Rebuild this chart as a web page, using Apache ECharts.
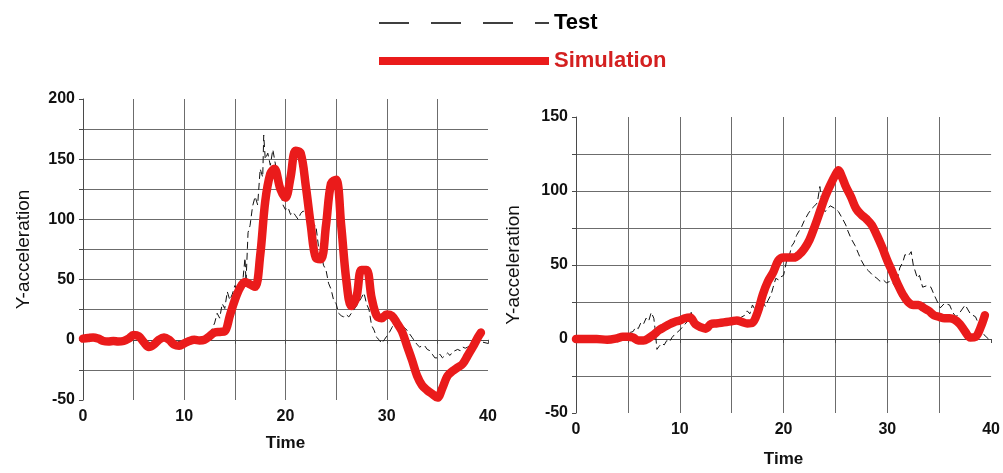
<!DOCTYPE html>
<html>
<head>
<meta charset="utf-8">
<title>Y-acceleration: Test vs Simulation</title>
<script src="https://cdn.jsdelivr.net/npm/echarts@6/dist/echarts.min.js"></script>
<style>
  html, body { margin: 0; padding: 0; background: #fff; }
  #chart { width: 1003px; height: 473px; }
</style>
</head>
<body>
<div id="chart"></div>
<script>
// Series names
const seriesNames = ['Test', 'Simulation'];

// Axis ranges and tick spacing
const xRange = [0, 40];
const xGridStep = 5;
const xLabelStep = 10;
const leftYRange = [-50, 200];
const rightYRange = [-50, 150];
const yGridStep = 25;
const yLabelStep = 50;

// Left panel: measured (Test) and computed (Simulation) [time, acceleration]
const leftTest = [
  [0,0],[1,1],[2,-1],[3,-1],[4,0],[5,3],[6,-1],[7,-3],[8,1],[9,-2],[10,-1],[11,0],[12,1],
  [12.5,4],[13,14],[13.25,22],[13.5,18],[13.75,30],[14,26],[14.25,40],[14.5,33],[14.75,38],
  [15,45],[15.25,40],[15.5,50],[15.75,46],[16,68],[16.1,48],[16.3,89],[16.5,95],[16.75,111],
  [17,119],[17.25,112],[17.5,142],[17.75,135],[17.85,170],[18,150],[18.25,155],[18.5,145],
  [18.75,158],[19,146],[19.25,135],[19.5,125],[19.75,112],[20,108],[20.25,110],[20.5,104],
  [20.75,106],[21,103],[21.25,100],[21.5,105],[21.75,107],[22,104],[22.5,100],[22.75,93],
  [23,95],[23.25,78],[23.5,73],[23.75,62],[24,58],[24.25,47],[24.5,42],[24.75,33],[25,30],
  [25.25,22],[25.5,20],[25.75,19],[26,21],[26.25,19],[26.5,22],[27,28],[27.5,35],[27.75,39],
  [28,30],[28.25,25],[28.5,12],[28.75,8],[29,2],[29.25,0],[29.5,-3],[29.75,0],[30,3],
  [30.25,6],[30.5,10],[30.75,14],[31,16],[31.5,12],[32,8],[32.5,2],[33,-4],[33.25,-6],
  [33.5,-5],[33.75,-5],[34,-8],[34.25,-9],[34.5,-12],[34.75,-15],[35,-15],[35.25,-12],
  [35.5,-15],[35.75,-13],[36,-11],[36.25,-13],[36.5,-10],[37,-8],[37.25,-9],[37.5,-6],
  [37.75,-7],[38,-6],[38.5,-3],[39,-3],[39.5,-2],[40,-3]
];
const leftSimulation = [
  [0,1],[0.5,1.5],[1,2],[1.5,1],[2,-1],[2.5,-1.5],[3,-1],[3.5,-1.5],[4,-1],[4.5,1],[5,4],
  [5.5,3],[6,-2],[6.5,-6],[7,-4],[7.5,0],[8,2],[8.5,0],[9,-4],[9.5,-5],[10,-3],[10.5,-1],
  [11,0],[11.5,-0.5],[12,0],[12.5,3],[13,6],[13.5,6.5],[14,7],[14.5,20],[15,33],[15.5,43],
  [16,48],[16.5,46],[17,44],[17.5,70],[18,115],[18.5,138],[18.9,142],[19.5,125],[20,118],
  [20.5,135],[21,157],[21.5,155],[22,128],[22.5,95],[23,68],[23.5,67],[24,95],[24.5,130],
  [25,133],[25.5,95],[26,50],[26.5,28],[27,35],[27.5,58],[28,58],[28.5,35],[29,20],
  [29.5,18],[30,21],[30.5,20],[31,14],[31.5,7],[32,-5],[32.5,-17],[33,-30],[33.5,-38],
  [34,-42],[34.5,-45],[35,-48],[35.5,-40],[36,-30],[36.5,-26],[37,-23],[37.5,-20],
  [38,-13],[38.5,-6],[39,2],[39.3,6]
];

// Right panel: measured (Test) and computed (Simulation) [time, acceleration]
const rightTest = [
  [0,0],[1,0],[2,0],[3,0],[4,0.5],[4.5,1],[5,3],[5.25,4.5],[5.5,5],[5.75,8],[6,7],[6.25,11],
  [6.5,10],[6.75,14],[7,12],[7.25,18],[7.5,14],[7.6,8],[7.8,-7],[8,-5],[8.25,-3],[8.5,-4],
  [8.75,-1],[9,-2],[9.25,1],[9.5,3],[10,6],[10.5,10],[11,14],[11.1,18],[11.3,12],[11.5,7],
  [12,6],[12.5,8],[13,10],[13.5,10],[14,11],[14.5,12],[15,12],[15.5,13],[16,15],[16.25,16],
  [16.5,19],[16.75,17],[17,23],[17.4,18],[17.75,22],[18,25],[18.25,22],[18.5,26],[18.8,30],
  [19,35],[19.25,41],[19.5,40],[19.75,42],[20,43],[20.3,53],[20.5,55],[20.8,63],[21,65],
  [21.25,70],[21.5,73],[21.75,76],[22,80],[22.4,85],[22.7,88],[23,90],[23.25,92],[23.5,103],
  [23.6,97],[24,86],[24.5,90],[25,88],[25.3,86],[25.7,81],[26,77],[26.2,73],[26.5,68],
  [26.9,63],[27.2,58],[27.5,53],[27.9,48],[28.2,46],[28.6,43],[29,41],[29.3,39],[29.6,40],
  [29.9,38],[30.3,39],[30.6,37],[30.8,35],[31.2,48],[31.5,52],[31.7,57],[32,56],[32.3,59],
  [32.5,50],[32.9,41],[33.1,43],[33.4,35],[33.8,36],[34.2,35],[34.5,30],[34.7,27],[35.1,21],
  [35.5,24],[36,23],[36.3,18],[36.6,15],[37,18],[37.5,23],[38,17],[38.5,15],[38.8,10],
  [39.3,3],[39.6,1],[39.9,-1]
];
const rightSimulation = [
  [0,0],[1,0],[2,0],[3,-0.5],[4,0.5],[4.5,1.5],[5,1.5],[5.5,1],[6,-1],[6.5,-1],[7,0.5],
  [7.5,3],[8,6],[8.5,8],[9,10],[9.5,11.5],[10,12.5],[10.5,14],[11,14.5],[11.5,10],[12,8],
  [12.5,7],[13,10],[13.5,10.5],[14,11],[14.5,11.5],[15,12],[15.5,12.5],[16,11.5],[16.5,10.5],
  [17,11],[17.5,18],[18,30],[18.5,39],[19,45],[19.5,53],[20,55],[20.5,55],[21,55],[21.5,57],
  [22,61],[22.5,67],[23,76],[23.5,86],[24,96],[24.5,104],[25,111],[25.3,114],[25.6,110],
  [26,103],[26.5,96],[27,88],[27.5,84],[28,81],[28.5,77],[29,70],[29.5,62],[30,53],[30.5,45],
  [31,37],[31.5,30],[32,25],[32.5,23],[33,23],[33.5,21],[34,19],[34.5,16],[35,15],[35.5,14],
  [36,14],[36.5,13],[37,10],[37.5,5],[38,1],[38.5,1.5],[39,8],[39.4,16]
];

// Styling
const labelFont = "'Liberation Sans', Arial, sans-serif";
const gridColor = '#6c6c6c';
const simColor = '#ea1b1b';
const testColor = '#111111';

function xAxisFor(gridIndex, nameGap) {
  return {
    type: 'value', gridIndex,
    min: xRange[0], max: xRange[1], interval: xGridStep,
    name: 'Time', nameLocation: 'middle', nameGap,
    nameTextStyle: { fontFamily: labelFont, fontWeight: 'bold', fontSize: 17, color: '#111' },
    axisLine: { show: true, lineStyle: { color: '#4a4a4a', width: 1 } },
    axisTick: { show: true, length: 4, lineStyle: { color: '#4a4a4a' } },
    axisLabel: {
      margin: 9, fontFamily: labelFont, fontWeight: 'bold', fontSize: 16, color: '#111',
      formatter: v => (v % xLabelStep === 0 ? String(v) : '')
    },
    splitLine: { show: true, showMinLine: false, showMaxLine: false, lineStyle: { color: gridColor, width: 1 } }
  };
}

function yAxisFor(gridIndex, range, nameGap) {
  return {
    type: 'value', gridIndex,
    min: range[0], max: range[1], interval: yGridStep,
    name: 'Y-acceleration', nameLocation: 'middle', nameRotate: 90, nameGap,
    nameTextStyle: { fontFamily: labelFont, fontSize: 19, color: '#111' },
    axisLine: { show: true, onZero: false, lineStyle: { color: '#4a4a4a', width: 1 } },
    axisTick: { show: true, length: 4, lineStyle: { color: '#4a4a4a' } },
    axisLabel: {
      margin: 8, fontFamily: labelFont, fontWeight: 'bold', fontSize: 16, color: '#111',
      formatter: v => (v % yLabelStep === 0 ? String(v) : '')
    },
    splitLine: { show: true, showMinLine: false, showMaxLine: false, lineStyle: { color: gridColor, width: 1 } }
  };
}

function testSeries(idx, data) {
  return {
    name: seriesNames[0], type: 'line', xAxisIndex: idx, yAxisIndex: idx,
    data, symbol: 'none', smooth: false, z: 2,
    lineStyle: { color: testColor, width: 1, type: [7, 4] },
    itemStyle: { color: testColor }
  };
}

function simSeries(idx, data) {
  return {
    name: seriesNames[1], type: 'line', xAxisIndex: idx, yAxisIndex: idx,
    data, symbol: 'none', smooth: 0.35, z: 3,
    lineStyle: { color: simColor, width: 8.5, cap: 'round', join: 'round' },
    itemStyle: { color: simColor }
  };
}

const chart = echarts.init(document.getElementById('chart'), null, { renderer: 'canvas' });
chart.setOption({
  animation: false,
  backgroundColor: '#ffffff',
  legend: {
    orient: 'vertical', left: 375, top: 10, padding: 0,
    itemWidth: 170, itemHeight: 14, itemGap: 12,
    selectedMode: false,
    textStyle: { fontFamily: labelFont, fontWeight: 'bold', fontSize: 22, lineHeight: 26 },
    data: [
      { name: seriesNames[0], textStyle: { color: '#000' },
        itemStyle: { opacity: 0 },
        lineStyle: { color: '#000', width: 1.5, type: [30, 22] } },
      { name: seriesNames[1], textStyle: { color: '#d42020' },
        itemStyle: { opacity: 0 },
        lineStyle: { color: simColor, width: 8, cap: 'butt' } }
    ]
  },
  grid: [
    { left: 83, top: 99, width: 405, height: 301 },
    { left: 576, top: 117, width: 418, height: 300 }
  ],
  xAxis: [xAxisFor(0, 35), xAxisFor(1, 38)],
  yAxis: [yAxisFor(0, leftYRange, 50), yAxisFor(1, rightYRange, 53)],
  series: [
    testSeries(0, leftTest),
    simSeries(0, leftSimulation),
    testSeries(1, rightTest),
    simSeries(1, rightSimulation)
  ]
});
</script>
</body>
</html>
